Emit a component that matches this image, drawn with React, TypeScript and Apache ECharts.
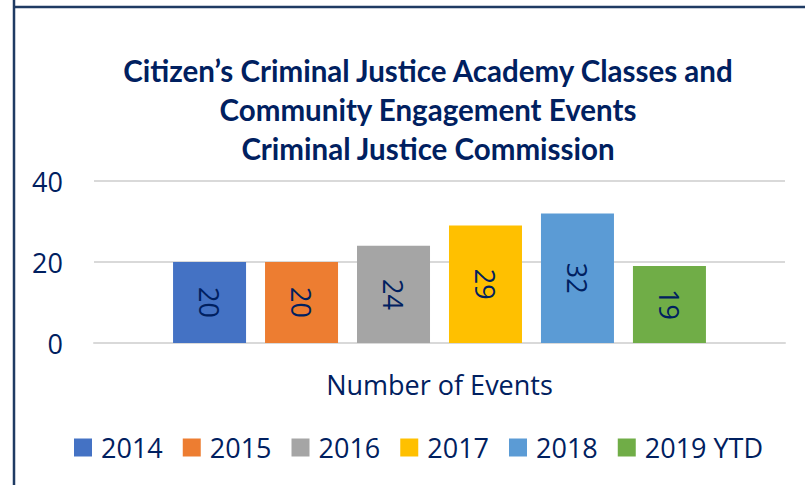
import React, { useEffect, useRef } from "react";
import * as echarts from "echarts";

const categories = ["Number of Events"];
const seriesNames = ["2014", "2015", "2016", "2017", "2018", "2019 YTD"];
const seriesValues = [20, 20, 24, 29, 32, 19];
const seriesColors = ["#4472C4", "#ED7D31", "#A5A5A5", "#FFC000", "#5B9BD5", "#70AD47"];
const titleLines = [
  "Citizen\u2019s Criminal Justice Academy Classes and",
  "Community Engagement Events",
  "Criminal Justice Commission",
];
const yMin = 0;
const yMax = 40;
const yInterval = 20;

const TEXT = "#002060";
const FONT = "'Open Sans', 'Noto Sans', sans-serif";
const TITLE_FONT = "Lato, 'Open Sans', sans-serif";

export default function App() {
  const ref = useRef<HTMLDivElement>(null);
  useEffect(() => {
    document.body.style.margin = "0";
    if (!ref.current) return;
    const chart = echarts.init(ref.current, null, { renderer: "svg" });
    chart.setOption({
      animation: false,
      backgroundColor: "#FFFFFF",
      title: {
        text: titleLines.join("\n"),
        left: 423,
        top: 46,
        textAlign: "center",
        textStyle: {
          fontFamily: TITLE_FONT,
          fontWeight: "bold",
          fontSize: 29.5,
          lineHeight: 39,
          color: TEXT,
        },
      },
      legend: {
        left: 74,
        top: 434,
        itemWidth: 18,
        itemHeight: 18,
        itemGap: 20,
        icon: "rect",
        padding: 0,
        textStyle: {
          fontFamily: FONT,
          fontSize: 27,
          color: TEXT,
          padding: [0, 0, 0, 4],
        },
        data: seriesNames,
      },
      grid: { left: 94, right: 20, top: 181, bottom: 142, containLabel: false },
      xAxis: {
        type: "category",
        data: categories,
        axisLine: { show: true, lineStyle: { color: "#D9D9D9", width: 2 } },
        axisTick: { show: false },
        axisLabel: { fontFamily: FONT, fontSize: 27, color: TEXT, margin: 28 },
      },
      yAxis: {
        type: "value",
        min: yMin,
        max: yMax,
        interval: yInterval,
        axisLine: { show: false },
        axisTick: { show: false },
        splitLine: { lineStyle: { color: "#D9D9D9", width: 2 } },
        axisLabel: { fontFamily: FONT, fontSize: 27, color: TEXT, margin: 31 },
      },
      series: seriesNames.map((name, i) => ({
        name,
        type: "bar",
        data: [seriesValues[i]],
        barWidth: 73,
        barGap: "26%",
        itemStyle: { color: seriesColors[i] },
        label: {
          show: true,
          position: "inside",
          rotate: -90,
          fontFamily: FONT,
          fontSize: 27,
          color: TEXT,
        },
      })),
      graphic: [
        {
          type: "line",
          shape: { x1: 14, y1: 0, x2: 14, y2: 485 },
          style: { stroke: "#1F3B63", lineWidth: 2.5 },
        },
        {
          type: "line",
          shape: { x1: 14, y1: 7, x2: 805, y2: 7 },
          style: { stroke: "#1F3B63", lineWidth: 2.5 },
        },
      ],
    });
    return () => chart.dispose();
  }, []);
  return <div ref={ref} style={{ width: 805, height: 485 }} />;
}
